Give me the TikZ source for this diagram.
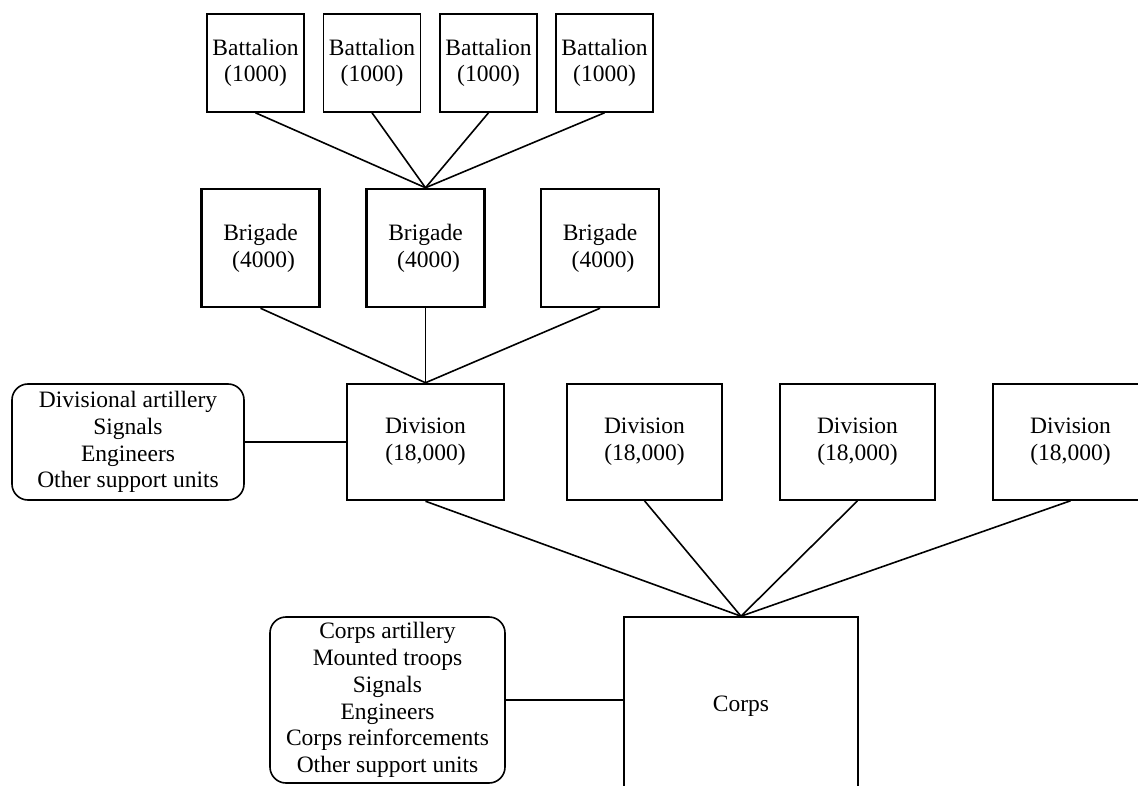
\documentclass[tikz,border=0pt]{standalone}
\usepackage{fontspec}
\setmainfont{Liberation Serif}
\begin{document}
\begin{tikzpicture}[x=1pt,y=-1pt,
  every node/.style={font=\fontsize{23.5}{26.7}\selectfont, align=center, inner sep=0pt},
  unitbox/.style={draw, line width=1.6pt, minimum width=#1},
  batbox/.style={unitbox=97pt, minimum height=98pt},
  brigbox/.style={draw, line width=2.5pt, minimum width=118pt, minimum height=118pt},
  divbox/.style={unitbox=155pt, minimum height=116pt},
  supbox/.style={draw, line width=1.6pt, rounded corners=16pt},
  link/.style={draw, line width=1.6pt}
]
\useasboundingbox (0,0) rectangle (1138,786);
\clip (0,0) rectangle (1138,786);

% battalions
\node[batbox] (bat1) at (255.5,63) {Battalion\\(1000)};
\node[batbox] (bat2) at (372,63)   {Battalion\\(1000)};
\node[batbox] (bat3) at (488.5,63) {Battalion\\(1000)};
\node[batbox] (bat4) at (604.5,63) {Battalion\\(1000)};

% brigades
\node[brigbox] (brig1) at (260.5,248) {Brigade\\\hspace*{6pt}(4000)};
\node[brigbox] (brig2) at (425.5,248) {Brigade\\\hspace*{6pt}(4000)};
\node[brigbox] (brig3) at (600,248)   {Brigade\\\hspace*{6pt}(4000)};

% divisions
\node[divbox, line width=2.5pt, minimum width=157pt] (div1) at (425.5,442) {Division\\(18,000)};
\node[divbox] (div2) at (644.5,442)  {Division\\(18,000)};
\node[divbox] (div3) at (857.5,442)  {Division\\(18,000)};
\node[divbox] (div4) at (1070.5,442) {Division\\(18,000)};

% corps
\node[unitbox=234pt, minimum height=178pt] (corps) at (741,706) {Corps};

% support units
\node[supbox, minimum width=232pt, minimum height=116pt] (sup1) at (128,442)
  {Divisional artillery\\Signals\\Engineers\\Other support units};
\node[supbox, minimum width=235pt, minimum height=166pt] (sup2) at (387.5,700)
  {Corps artillery\\Mounted troops\\Signals\\Engineers\\Corps reinforcements\\Other support units};

% connectors
\foreach \b in {bat1,bat2,bat3,bat4}
  \draw[link] (\b.south) -- (brig2.north);
\foreach \b in {brig1,brig2,brig3}
  \draw[link] (\b.south) -- (div1.north);
\foreach \d in {div1,div2,div3,div4}
  \draw[link] (\d.south) -- (corps.north);
\draw[link] (sup1.east) -- (div1.west);
\draw[link] (sup2.east) -- (sup2.east -| corps.west);
\end{tikzpicture}
\end{document}
